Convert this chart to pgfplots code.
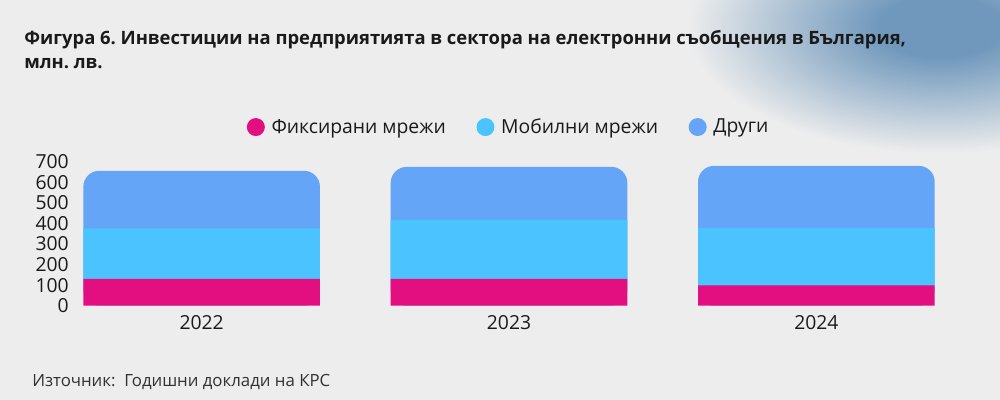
\documentclass[border=0pt]{standalone}
\usepackage{pgfplots}
\pgfplotsset{compat=1.18}
\usepackage{pgfplotstable}
\usepackage{fontspec}
\setmainfont{Open Sans}
\frenchspacing

\definecolor{bg}{HTML}{EDEDED}
\definecolor{blob}{HTML}{7098BC}
\definecolor{fixedc}{HTML}{E30F80}
\definecolor{mobilec}{HTML}{4AC3FF}
\definecolor{otherc}{HTML}{64A5F8}
\definecolor{txt}{HTML}{1A1A1A}

\pgfdeclareradialshading{blobshade}{\pgfpoint{0bp}{0bp}}{%
  color(0bp)=(blob); color(6bp)=(blob); color(25bp)=(bg); color(50bp)=(bg)}

% investments, mln. lv.: fixed, mobile, other
\pgfplotstableread{
x f   m   o
0 130 246 280
1 130 287 258
2 99  280 301
}\invdata

\pgfplotsset{
  invbase/.style={
    at={(56.25pt,70.7pt)}, anchor=south west,
    scale only axis, width=651pt, height=108pt,
    xmin=-0.412, xmax=2.412, ymin=0, ymax=700,
    bar width=0.77,
    axis line style={draw=none}, tick style={draw=none},
  },
  dot legend/.style={legend image code/.code={\fill[##1] (0pt,0pt) circle (6.75pt);}},
}

\begin{document}
\begin{tikzpicture}
\fill[bg] (0,0) rectangle (750pt,300pt);
\begin{scope}
  \clip (0,0) rectangle (750pt,300pt);
  \shade[shading=blobshade] (705pt,280pt) ellipse (190pt and 95pt);
\end{scope}

% rounded total bars drawn behind
\begin{axis}[invbase, ybar, xtick=\empty, ytick=\empty]
\addplot[fill=otherc, draw=none, rounded corners=12pt]
  table[x=x, y expr=\thisrow{f}+\thisrow{m}+\thisrow{o}] {\invdata};
\end{axis}

\begin{axis}[invbase, ybar stacked,
    xtick={0,1,2}, xticklabels={2022,2023,2024},
    ytick={0,100,...,700},
    /pgf/number format/assume math mode=true,
    tick label style={font=\fontsize{14.5}{17}\selectfont, text=txt},
    yticklabel style={inner sep=0pt, xshift=-4.5pt},
    xticklabel style={anchor=north, inner sep=0pt, yshift=-7pt},
    legend columns=3,
    legend style={at={(0.5,1)}, anchor=center, yshift=26pt, draw=none, fill=none,
      font=\fontsize{14.5}{17}\selectfont, text=txt,
      /tikz/every odd column/.append style={column sep=3pt},
      /tikz/every even column/.append style={column sep=21pt}},
  ]
\addplot[fill=fixedc, draw=none, dot legend] table[x=x, y=f] {\invdata};
\addlegendentry{Фиксирани мрежи}
\addplot[fill=mobilec, draw=none, dot legend] table[x=x, y=m] {\invdata};
\addlegendentry{Мобилни мрежи}
\addlegendimage{fill=otherc, draw=none, dot legend}
\addlegendentry{Други}
\end{axis}

\node[anchor=base west, inner sep=0pt, text=txt, font=\bfseries\fontsize{13.8}{16}\selectfont]
  at (18pt,266.25pt) {Фигура 6. Инвестиции на предприятията в сектора на електронни съобщения в България,};
\node[anchor=base west, inner sep=0pt, text=txt, font=\bfseries\fontsize{13.8}{16}\selectfont]
  at (18pt,248.8pt) {млн. лв.};
\node[anchor=base west, inner sep=0pt, text=txt!90, font=\fontsize{12.6}{15}\selectfont]
  at (24pt,9.75pt) {Източник:\ \ Годишни доклади на КРС};
\end{tikzpicture}
\end{document}
